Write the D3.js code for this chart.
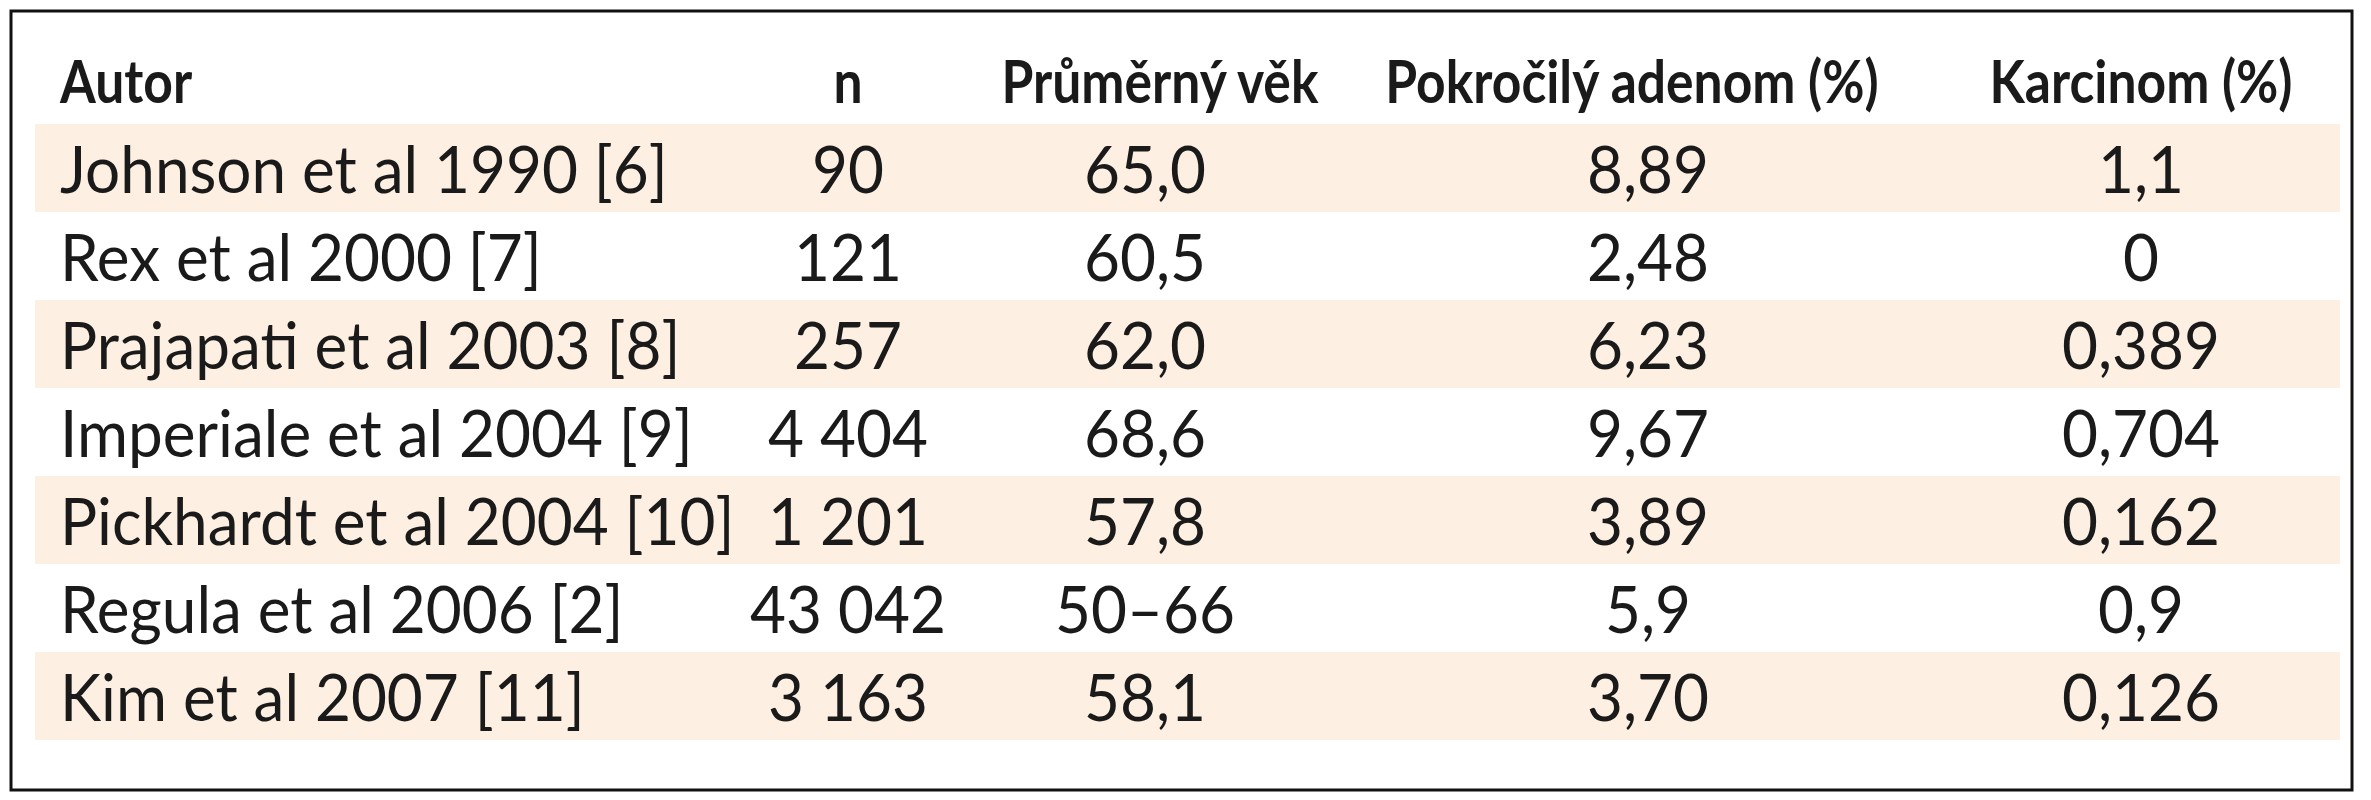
<!DOCTYPE html>
<html><head><meta charset="utf-8">
<script src="https://cdn.jsdelivr.net/npm/d3@7"></script>
<style>body{margin:0;background:#fff}</style>
</head><body><div id="chart"></div>
<script>
const headers = ['Autor', 'n', 'Průměrný věk', 'Pokročilý adenom (%)', 'Karcinom (%)'];
const authors = ['Johnson et al 1990 [6]', 'Rex et al 2000 [7]', 'Prajapati et al 2003 [8]', 'Imperiale et al 2004 [9]', 'Pickhardt et al 2004 [10]', 'Regula et al 2006 [2]', 'Kim et al 2007 [11]'];
const nValues = ['90', '121', '257', '4 404', '1 201', '43 042', '3 163'];
const ages = ['65,0', '60,5', '62,0', '68,6', '57,8', '50–66', '58,1'];
const adenoma = ['8,89', '2,48', '6,23', '9,67', '3,89', '5,9', '3,70'];
const carcinoma = ['1,1', '0', '0,389', '0,704', '0,162', '0,9', '0,126'];

const W = 2371, H = 800;
const svg = d3.select('#chart').append('svg').attr('width', W).attr('height', H);

// frame
svg.append('rect').attr('x', 11).attr('y', 11).attr('width', 2341).attr('height', 779)
  .attr('fill', 'none').attr('stroke', '#111').attr('stroke-width', 3);

const y = d3.scaleBand().domain(d3.range(authors.length)).range([124, 740]);

// shaded rows
svg.selectAll('.band').data(d3.range(authors.length).filter(i => i % 2 === 0)).join('rect')
  .attr('x', 35).attr('width', 2305)
  .attr('y', i => y(i)).attr('height', y.bandwidth())
  .attr('fill', '#fdf0e2');

function put(x, yy, txt, anchor, bold) {
  svg.append('text')
    .attr('transform', `translate(${x},${yy}) scale(${bold ? 0.86 : 0.94},1)`)
    .attr('text-anchor', anchor)
    .attr('dominant-baseline', 'central')
    .attr('font-family', 'Lato, sans-serif')
    .attr('font-size', bold ? 60 : 66)
    .attr('font-weight', bold ? 700 : 400)
    .attr('fill', '#1a1a1a')
    .text(txt);
}

const headX = [60, 848, 1160, 1632, 2141];
const headAnchor = ['start', 'middle', 'middle', 'middle', 'middle'];
headers.forEach((h, i) => put(headX[i], 80, h, headAnchor[i], true));

const cols = [authors, nValues, ages, adenoma, carcinoma];
const colX = [60, 848, 1145, 1648, 2141];
cols.forEach((col, c) => col.forEach((v, i) => put(colX[c], y(i) + y.bandwidth() / 2, v, c === 0 ? 'start' : 'middle', false)));
</script></body></html>
